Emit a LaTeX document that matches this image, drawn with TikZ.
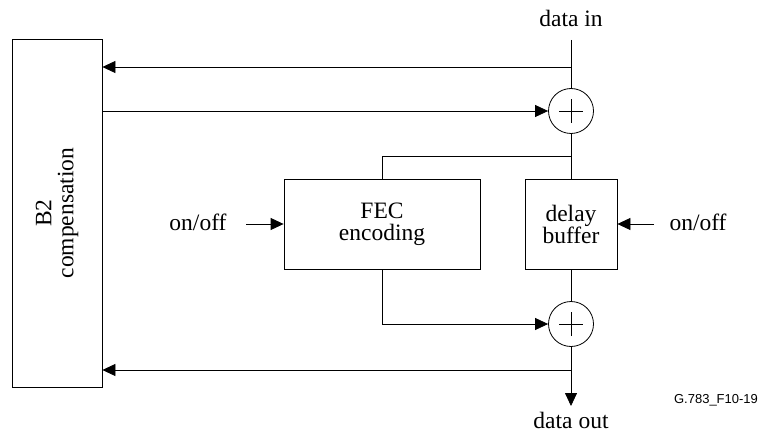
\documentclass[tikz,border=0pt]{standalone}
\usepackage{fontspec}
\setmainfont{Liberation Serif}
\newfontfamily\labelsans{Liberation Sans}
\usetikzlibrary{arrows.meta}
\begin{document}
\begin{tikzpicture}[x=1pt,y=-1pt,
  line width=0.8pt,
  every node/.style={font=\fontsize{23.5}{22}\selectfont},
  box/.style={draw, inner sep=0pt},
  adder/.style={draw, circle, minimum size=45pt, inner sep=0pt,
    path picture={\draw[line width=0.7pt]
      ([xshift=-12pt]path picture bounding box.center) -- ([xshift=12pt]path picture bounding box.center)
      ([yshift=-12pt]path picture bounding box.center) -- ([yshift=12pt]path picture bounding box.center);}},
  flow/.style={-{Triangle[length=13pt,width=12pt]}}]
\useasboundingbox (0,0) rectangle (779,441);

% blocks
\node[box, minimum width=90pt, minimum height=348pt] (b2) at (57,213) {};
\node[rotate=90, align=center] (b2text) at (b2.center) {B2\\compensation};
\node[box, minimum width=196pt, minimum height=90pt, align=center] (fec) at (382,224) {FEC\\encoding};
\node[box, minimum width=92pt, minimum height=90pt, align=center] (delay) at (571,224) {delay\\buffer};
\node[adder] (add1) at (571,111) {};
\node[adder] (add2) at (571,324) {};

% labels
\node[anchor=base] (din) at (571,27) {data in};
\node[anchor=base] (dout) at (571,428) {data out};
\node (onl) at (198,222) {on/off};
\node (onr) at (698,222) {on/off};
\node[font=\labelsans\fontsize{13}{15}\selectfont] (fig) at (716,400) {G.783\_F10-19};

% signal path points
\coordinate (top) at (571,40);
\coordinate (j1) at (571,67);
\coordinate (j2) at (571,156);
\coordinate (j3) at (571,370);
\coordinate (bot) at (571,406);
\coordinate (ctrll) at (246,224);
\coordinate (ctrlr) at (654,224);

% connectors
\draw (top) -- (add1.north);
\draw[flow] (j1) -- (b2.east |- j1);
\draw[flow] (b2.east |- add1) -- (add1.west);
\draw (add1.south) -- (delay.north);
\draw (j2) -| (fec.north);
\draw (delay.south) -- (add2.north);
\draw[flow] (fec.south) |- (add2.west);
\draw[flow] (add2.south) -- (bot);
\draw[flow] (j3) -- (b2.east |- j3);
\draw[flow] (ctrll) -- (fec.west);
\draw[flow] (ctrlr) -- (delay.east);
\end{tikzpicture}
\end{document}
